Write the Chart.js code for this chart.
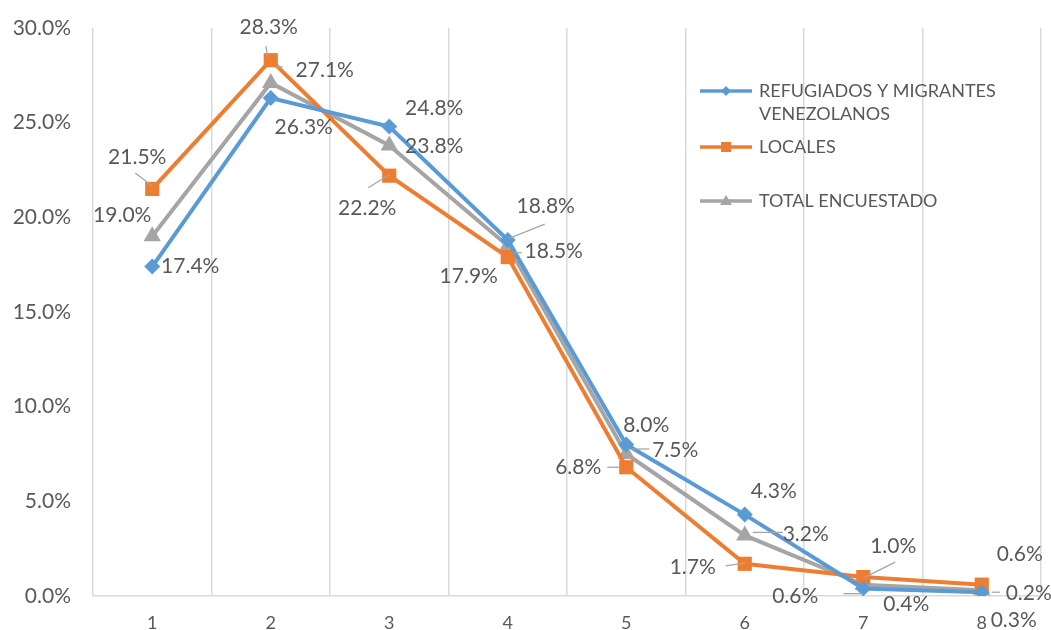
<!DOCTYPE html>
<html>
<head>
<meta charset="utf-8">
<script src="https://cdn.jsdelivr.net/npm/chart.js@4/dist/chart.umd.min.js"></script>
<style>
  html, body { margin: 0; padding: 0; background: #fff; }
  #wrap { width: 1051px; height: 630px; }
</style>
</head>
<body>
<div id="wrap"><canvas id="chart" width="1051" height="630"></canvas></div>
<script>
const categories = ['1', '2', '3', '4', '5', '6', '7', '8'];
const refugiados = [17.4, 26.3, 24.8, 18.8, 8.0, 4.3, 0.4, 0.2];
const locales = [21.5, 28.3, 22.2, 17.9, 6.8, 1.7, 1.0, 0.6];
const total = [19.0, 27.1, 23.8, 18.5, 7.5, 3.2, 0.6, 0.3];
const seriesNames = ['REFUGIADOS Y MIGRANTES VENEZOLANOS', 'LOCALES', 'TOTAL ENCUESTADO'];

const FONT = 'Lato, "Open Sans", sans-serif';
const TEXT = '#595959';

// label placement relative to each point: [dx, dy] and optional leader [x1, y1, x2, y2]
const labelPlace = [
  [[38, 0], [33, 29], [45, -18], [38, -34], [20, -19], [29, -23], [43, 16], [47, 1]],
  [[-15, -32], [-2, -33], [-22, 33], [-39, 19], [-48, 0], [-52, 3], [30, -31], [38, -30]],
  [[-30, -21], [54, -13], [45, 1], [46, 6], [49, -4], [61, -1], [-68, 12], [32, 30]],
];
const leaders = [
  [null, null, null, [2, -2, 37, -16], null, null, null, [10, 0, 18, 0]],
  [[-17, -16, 0, -3], [-5, -14, -3, -3], [-21, 12, 0, -1], null, [-19, 0, -6, 0], [-19, 2, 1, -1], [2, 0, 32, -15], null],
  [null, [3, -16, 12, -16], null, [7, 7, 14, 7], [6, -5, 23, -5], [8, -3, 38, -3], [-20, 9, 0, 9], null],
];

const dataLabels = {
  id: 'dataLabels',
  afterDatasetsDraw(chart) {
    const ctx = chart.ctx;
    ctx.save();
    chart.data.datasets.forEach((ds, di) => {
      const meta = chart.getDatasetMeta(di);
      meta.data.forEach((pt, i) => {
        const ld = leaders[di][i];
        if (ld) {
          ctx.strokeStyle = '#a6a6a6';
          ctx.lineWidth = 1.3;
          ctx.beginPath();
          ctx.moveTo(pt.x + ld[0], pt.y + ld[1]);
          ctx.lineTo(pt.x + ld[2], pt.y + ld[3]);
          ctx.stroke();
        }
        const [dx, dy] = labelPlace[di][i];
        ctx.fillStyle = TEXT;
        ctx.font = '21px ' + FONT;
        ctx.textAlign = 'center';
        ctx.textBaseline = 'middle';
        ctx.fillText(ds.data[i].toFixed(1) + '%', pt.x + dx, pt.y + dy);
      });
    });
    ctx.restore();
  },
};

const legendBox = {
  id: 'legendBox',
  afterDraw(chart) {
    const ctx = chart.ctx;
    const rows = [
      { y: 91, lines: ['REFUGIADOS Y MIGRANTES', 'VENEZOLANOS'] },
      { y: 147, lines: ['LOCALES'] },
      { y: 201, lines: ['TOTAL ENCUESTADO'] },
    ];
    ctx.save();
    chart.data.datasets.forEach((ds, di) => {
      const r = rows[di];
      ctx.strokeStyle = ds.borderColor;
      ctx.lineWidth = 3.5;
      ctx.beginPath();
      ctx.moveTo(700, r.y);
      ctx.lineTo(752, r.y);
      ctx.stroke();
      ctx.fillStyle = ds.borderColor;
      const cx = 726;
      ctx.beginPath();
      if (ds.pointStyle === 'rectRot') {
        ctx.moveTo(cx, r.y - 5); ctx.lineTo(cx + 5, r.y); ctx.lineTo(cx, r.y + 5); ctx.lineTo(cx - 5, r.y);
      } else if (ds.pointStyle === 'rect') {
        ctx.rect(cx - 5, r.y - 5, 10, 10);
      } else {
        ctx.moveTo(cx, r.y - 6); ctx.lineTo(cx + 6, r.y + 4); ctx.lineTo(cx - 6, r.y + 4);
      }
      ctx.closePath();
      ctx.fill();
      ctx.fillStyle = TEXT;
      ctx.font = '18px ' + FONT;
      ctx.textAlign = 'left';
      ctx.textBaseline = 'middle';
      r.lines.forEach((t, k) => ctx.fillText(t, 759, r.y + k * 23));
    });
    ctx.restore();
  },
};

new Chart(document.getElementById('chart'), {
  type: 'line',
  data: {
    labels: categories,
    datasets: [
      {
        label: seriesNames[0],
        data: refugiados,
        borderColor: '#5b9bd5',
        backgroundColor: '#5b9bd5',
        pointStyle: 'rectRot',
        pointRadius: 8,
      },
      {
        label: seriesNames[1],
        data: locales,
        borderColor: '#ed7d31',
        backgroundColor: '#ed7d31',
        pointStyle: 'rect',
        pointRadius: 10,
      },
      {
        label: seriesNames[2],
        data: total,
        borderColor: '#a5a5a5',
        backgroundColor: '#a5a5a5',
        pointStyle: 'triangle',
        pointRadius: 10,
      },
    ],
  },
  options: {
    responsive: false,
    animation: false,
    elements: {
      line: { borderWidth: 4, tension: 0 },
      point: { borderWidth: 0 },
    },
    layout: { padding: { top: 28, right: 9, left: 0, bottom: 0 } },
    plugins: {
      legend: { display: false },
      tooltip: { enabled: false },
    },
    scales: {
      x: {
        offset: true,
        grid: { offset: true, color: '#d9d9d9', lineWidth: 1.5, drawTicks: false },
        border: { color: '#d9d9d9', width: 1.5 },
        ticks: { color: TEXT, font: { family: FONT, size: 18 }, padding: 16 },
        afterFit(scale) { scale.height = 34; },
      },
      y: {
        min: 0,
        max: 30,
        grid: { display: false, drawTicks: false },
        border: { display: false },
        ticks: {
          stepSize: 5,
          color: TEXT,
          font: { family: FONT, size: 21, lineHeight: 0.4 },
          padding: 22,
          callback: (v) => v.toFixed(1) + '%',
        },
        afterFit(scale) { scale.width = 93; },
      },
    },
  },
  plugins: [dataLabels, legendBox],
});
</script>
</body>
</html>
